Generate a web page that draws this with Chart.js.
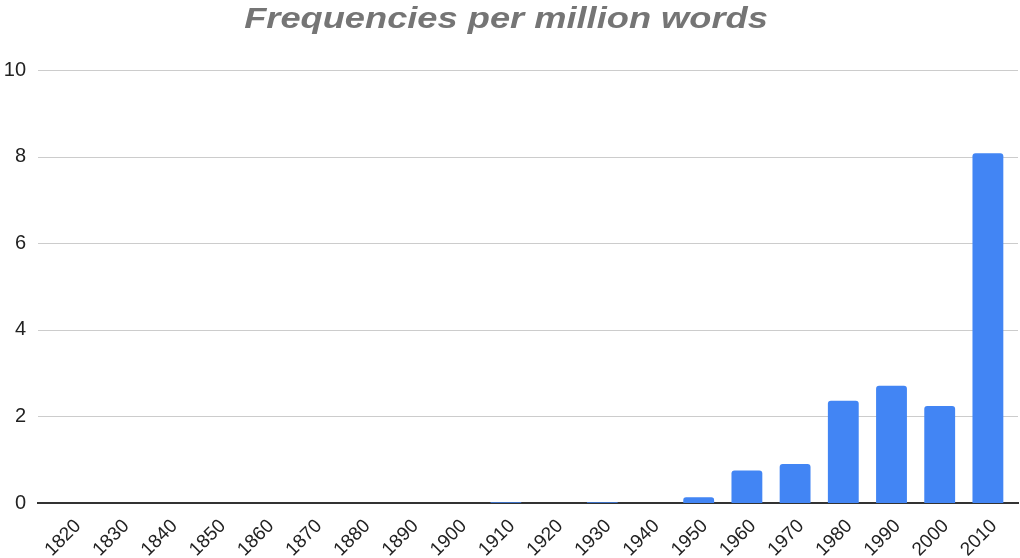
<!DOCTYPE html>
<html>
<head>
<meta charset="utf-8">
<script src="https://cdn.jsdelivr.net/npm/chart.js@4"></script>
<style>
  html, body { margin: 0; padding: 0; background: #fff; }
  #wrap { width: 1020px; height: 558px; }
</style>
</head>
<body>
<div id="wrap"><canvas id="grafico" width="1020" height="558"></canvas></div>
<script>
// decades on the x axis
var decadas = ["1820", "1830", "1840", "1850", "1860", "1870", "1880", "1890", "1900", "1910",
    "1920", "1930", "1940", "1950", "1960", "1970", "1980", "1990", "2000", "2010"]
// frequencies per million words
var frecuencias = [0, 0, 0, 0, 0, 0, 0, 0, 0, 0.02,
    0, 0.02, 0, 0.13, 0.75, 0.90, 2.36, 2.71, 2.24, 8.08]
var ticksY = [0, 2, 4, 6, 8, 10]

var tituloGrafico = "Frequencies per million words"

Chart.defaults.font.family = "'Liberation Sans', Arial, sans-serif"

// title is drawn a bit wider than the font, like the original
var pluginTitulo = {
    id: "tituloAncho",
    afterDraw: function (chart) {
        var ctx = chart.ctx
        ctx.save()
        ctx.font = "italic bold 29px 'Liberation Sans', Arial, sans-serif"
        ctx.fillStyle = "#757575"
        ctx.textAlign = "center"
        ctx.textBaseline = "alphabetic"
        ctx.translate(506, 28)
        ctx.scale(1.25, 1)
        ctx.fillText(tituloGrafico, 0, 0)
        ctx.restore()
    }
}

// horizontal grid lines run a little past the plot area
var pluginGrilla = {
    id: "grillaAncha",
    beforeDatasetsDraw: function (chart) {
        var ctx = chart.ctx
        var escalaY = chart.scales.y
        ctx.save()
        ticksY.forEach(function (v) {
            var y = Math.round(escalaY.getPixelForValue(v))
            ctx.beginPath()
            if (v === 0) {
                ctx.strokeStyle = "#333333"
                ctx.lineWidth = 2
                ctx.moveTo(37, y)
                ctx.lineTo(1019, y)
            } else {
                ctx.strokeStyle = "#cccccc"
                ctx.lineWidth = 1
                ctx.moveTo(38, y + 0.5)
                ctx.lineTo(1018, y + 0.5)
            }
            ctx.stroke()
        })
        ctx.restore()
    }
}

var chart = new Chart("grafico", {
    type: "bar",
    data: {
        labels: decadas,
        datasets: [{
            data: frecuencias,
            backgroundColor: "#4285f4",
            borderRadius: 3,
            borderSkipped: "bottom",
            barPercentage: 0.64,
            categoryPercentage: 1
        }]
    },
    plugins: [pluginGrilla, pluginTitulo],
    options: {
        responsive: false,
        animation: false,
        layout: {padding: {left: 0, right: 8, top: 70, bottom: 0}},
        plugins: {
            legend: {display: false},
            tooltip: {enabled: false},
            title: {display: false}
        },
        scales: {
            x: {
                grid: {display: false, drawTicks: false},
                border: {display: false},
                afterFit: function (axis) { axis.height = 55 },
                ticks: {
                    color: "#222",
                    font: {size: 19},
                    maxRotation: 45,
                    minRotation: 45,
                    autoSkip: false,
                    padding: 12,
                    labelOffset: 6
                }
            },
            y: {
                min: 0,
                max: 10,
                afterBuildTicks: function (axis) {
                    axis.ticks = ticksY.map(v => ({value: v}))
                },
                afterFit: function (axis) { axis.width = 48 },
                border: {display: false},
                grid: {display: false, drawTicks: false},
                ticks: {
                    color: "#222",
                    font: {size: 20},
                    padding: 22
                }
            }
        }
    }
})
</script>
</body>
</html>
